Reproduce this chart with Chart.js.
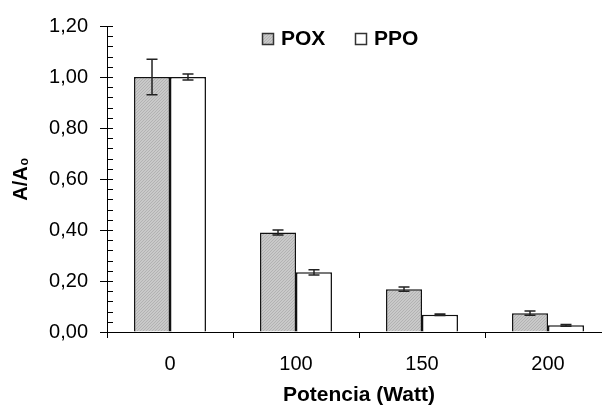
<!DOCTYPE html>
<html>
<head>
<meta charset="utf-8">
<script src="https://cdn.jsdelivr.net/npm/chart.js@4.4.1/dist/chart.umd.min.js"></script>
<style>
  html, body { margin: 0; padding: 0; background: #fff; overflow: hidden; }
  #wrap { position: relative; width: 612px; height: 408px; }
</style>
</head>
<body>
<div id="wrap"><canvas id="bar-chart"></canvas></div>
<script>
const potencias = ["0", "100", "150", "200"];
const poxValues = [1.00, 0.39, 0.168, 0.074];
const poxErrors = [0.07, 0.01, 0.008, 0.008];
const ppoValues = [1.00, 0.234, 0.068, 0.026];
const ppoErrors = [0.012, 0.01, 0.003, 0.003];

// grey fill with a fine diagonal hatch
const makeHatch = () => {
    const c = document.createElement("canvas");
    c.width = 3;
    c.height = 3;
    const g = c.getContext("2d");
    g.fillStyle = "#c9c9c9";
    g.fillRect(0, 0, 3, 3);
    g.fillStyle = "#b2b2b2";
    for (let i = 0; i < 3; i++) {
        g.fillRect(i, 2 - i, 1, 1);
    }
    return g.createPattern(c, "repeat");
};
const hatch = makeHatch();

const errorBars = {
    id: "errorBars",
    afterDatasetsDraw(chart) {
        const { ctx } = chart;
        const yScale = chart.scales.y;
        const errs = [poxErrors, ppoErrors];
        ctx.save();
        ctx.strokeStyle = "#222";
        ctx.lineWidth = 1.5;
        chart.data.datasets.forEach((ds, di) => {
            chart.getDatasetMeta(di).data.forEach((bar, i) => {
                const v = ds.data[i];
                const e = errs[di][i];
                const yTop = yScale.getPixelForValue(v + e);
                const yBot = yScale.getPixelForValue(v - e);
                ctx.beginPath();
                ctx.moveTo(bar.x, yTop);
                ctx.lineTo(bar.x, yBot);
                ctx.moveTo(bar.x - 5.5, yTop);
                ctx.lineTo(bar.x + 5.5, yTop);
                ctx.moveTo(bar.x - 5.5, yBot);
                ctx.lineTo(bar.x + 5.5, yBot);
                ctx.stroke();
            });
        });
        ctx.restore();
    },
};

// inner half of major ticks plus minor ticks every 0.04
const yMinorTicks = {
    id: "yMinorTicks",
    afterDraw(chart) {
        const { ctx } = chart;
        const yScale = chart.scales.y;
        const x0 = chart.chartArea.left;
        ctx.save();
        ctx.strokeStyle = "#000";
        ctx.lineWidth = 1;
        ctx.beginPath();
        for (let k = 0; k <= 30; k++) {
            const y = Math.round(yScale.getPixelForValue(k * 0.04)) + 0.5;
            ctx.moveTo(x0, y);
            ctx.lineTo(x0 + 6, y);
        }
        ctx.stroke();
        ctx.restore();
    },
};

const legendBoxes = {
    id: "legendBoxes",
    afterDraw(chart) {
        const { ctx } = chart;
        const items = [
            { label: "POX", fill: hatch, x: 262 },
            { label: "PPO", fill: "#fff", x: 355 },
        ];
        ctx.save();
        ctx.font = "bold 21px 'Liberation Sans', Arial, sans-serif";
        ctx.textBaseline = "middle";
        items.forEach((it) => {
            ctx.fillStyle = it.fill;
            ctx.fillRect(it.x, 33, 11, 11);
            ctx.strokeStyle = "#333";
            ctx.lineWidth = 1.5;
            ctx.strokeRect(it.x + 0.5, 33.5, 11, 11);
            ctx.fillStyle = "#000";
            ctx.fillText(it.label, it.x + 19, 39);
        });
        ctx.restore();
    },
};

const chartConfig = {
    type: "bar",
    data: {
        labels: potencias,
        datasets: [
            {
                label: "POX",
                data: poxValues,
                backgroundColor: hatch,
                borderColor: "#111",
                borderWidth: 1.5,
                barPercentage: 1.0,
                categoryPercentage: 0.571,
            },
            {
                label: "PPO",
                data: ppoValues,
                backgroundColor: "#fff",
                borderColor: "#111",
                borderWidth: 1.5,
                barPercentage: 1.0,
                categoryPercentage: 0.571,
            },
        ],
    },
    options: {
        responsive: true,
        maintainAspectRatio: false,
        animation: false,
        layout: { padding: { top: 26, right: 1, left: 0, bottom: 0 } },
        plugins: {
            legend: { display: false },
            tooltip: { enabled: false },
        },
        scales: {
            x: {
                grid: {
                    display: true,
                    drawOnChartArea: false,
                    drawTicks: true,
                    tickLength: 6,
                    offset: true,
                    color: "#000",
                },
                border: { display: true, color: "#000", width: 1 },
                ticks: {
                    color: "#000",
                    padding: 14,
                    font: { family: "'Liberation Sans', Arial, sans-serif", size: 20 },
                },
                title: {
                    display: true,
                    text: "Potencia (Watt)",
                    color: "#000",
                    padding: { top: 0, bottom: 0 },
                    font: { family: "'Liberation Sans', Arial, sans-serif", size: 21, weight: "bold" },
                },
                afterFit(scale) {
                    scale.height = 76;
                },
            },
            y: {
                min: 0,
                max: 1.2,
                grid: {
                    display: true,
                    drawOnChartArea: false,
                    drawTicks: true,
                    tickLength: 7,
                    color: "#000",
                },
                border: { display: true, color: "#000", width: 1 },
                ticks: {
                    stepSize: 0.2,
                    color: "#000",
                    padding: 12,
                    font: { family: "'Liberation Sans', Arial, sans-serif", size: 20 },
                    callback: (v) => v.toFixed(2).replace(".", ","),
                },
                title: {
                    display: true,
                    text: "A/A₀",
                    color: "#000",
                    padding: { top: 9, bottom: 0 },
                    font: { family: "'Liberation Sans', Arial, sans-serif", size: 20, weight: "bold" },
                },
                afterFit(scale) {
                    scale.width = 107;
                },
            },
        },
    },
    plugins: [errorBars, yMinorTicks, legendBoxes],
};

const ctx = document.getElementById("bar-chart").getContext("2d");
new Chart(ctx, chartConfig);
</script>
</body>
</html>
